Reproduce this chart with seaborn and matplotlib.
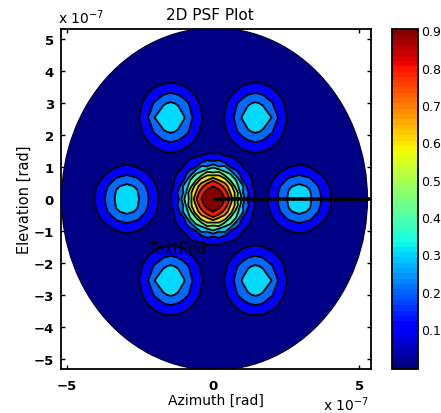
import numpy as np
import seaborn as sns
import matplotlib
matplotlib.use("Agg")
import matplotlib.pyplot as plt
from matplotlib.cm import ScalarMappable
from matplotlib.colors import Normalize
from matplotlib.patches import Ellipse

# one quadrant of the psf, in units of 1e-7 rad
x_nodes = [0, .2, .4, .6, .8, 1, 1.2, 1.45, 1.7, 2, 2.3, 2.6, 2.95, 3.3, 3.7, 4.1, 4.6, 5.4]
y_nodes = [0, .2, .4, .6, .8, 1, 1.2, 1.45, 1.75, 2.1, 2.55, 3, 3.35, 3.7, 4.2, 5.4]
psf_quadrant = [
    [.95, .93, .90, .78, .52, .39, .18, .09, .06, .13, .23, .32, .36, .32, .20, .08, .01, 0],
    [.93, .92, .88, .69, .56, .31, .21, .09, .055, .13, .22, .31, .34, .31, .19, .08, .01, 0],
    [.90, .88, .75, .65, .43, .33, .15, .07, .05, .11, .20, .29, .32, .29, .17, .07, .01, 0],
    [.78, .69, .65, .47, .39, .19, .15, .05, .035, .09, .16, .22, .26, .22, .13, .05, .01, 0],
    [.52, .56, .43, .39, .22, .18, .11, .04, .02, .06, .11, .16, .18, .16, .09, .03, 0, 0],
    [.39, .31, .33, .19, .18, .11, .05, .01, .01, .035, .07, .10, .12, .10, .06, .015, 0, 0],
    [.18, .21, .15, .15, .11, .06, .04, .04, .035, .025, .04, .06, .07, .06, .03, .01, 0, 0],
    [.09, .09, .07, .05, .055, .075, .09, .10, .09, .065, .03, .02, .025, .02, .01, 0, 0, 0],
    [.01, .02, .045, .08, .11, .145, .17, .19, .17, .13, .08, .03, .02, .005, 0, 0, 0, 0],
    [.015, .04, .085, .13, .19, .24, .29, .31, .29, .21, .13, .06, .01, 0, 0, 0, 0, 0],
    [.02, .06, .11, .165, .23, .31, .35, .36, .35, .30, .165, .08, .02, 0, 0, 0, 0, 0],
    [.015, .04, .085, .13, .19, .24, .29, .31, .29, .21, .13, .06, .01, 0, 0, 0, 0, 0],
    [.01, .02, .045, .08, .11, .145, .17, .19, .17, .13, .08, .03, .01, 0, 0, 0, 0, 0],
    [0, .01, .015, .025, .05, .065, .075, .08, .075, .055, .025, .01, 0, 0, 0, 0, 0, 0],
    [0, 0, 0, 0, 0, .005, .008, .01, .008, .005, 0, 0, 0, 0, 0, 0, 0, 0],
    [0, 0, 0, 0, 0, 0, 0, 0, 0, 0, 0, 0, 0, 0, 0, 0, 0, 0],
]
level_values = [-.01, .1, .2, .3, .4, .5, .6, .7, .8, .9, 1.0]
beam_x = [0.05, 5.4]
beam_y = [0, 0]
x_ticks = [-5, 0, 5]
y_ticks = [-5, -4, -3, -2, -1, 0, 1, 2, 3, 4, 5]
bar_ticks = [.1, .2, .3, .4, .5, .6, .7, .8, .9]

sns.set_style("ticks")
plt.rcParams["font.family"] = ["DejaVu Sans"]
plt.rcParams["axes.linewidth"] = 1.3
plt.rcParams["text.color"] = "black"
plt.rcParams["axes.labelcolor"] = "black"
plt.rcParams["xtick.color"] = "black"
plt.rcParams["ytick.color"] = "black"
plt.rcParams["axes.edgecolor"] = "black"

# mirror the quadrant into the full plane
half = np.array(psf_quadrant)
full = np.hstack([half[:, :0:-1], half])
full = np.vstack([full[:0:-1], full])
xs = np.r_[-np.array(x_nodes[:0:-1]), x_nodes]
ys = np.r_[-np.array(y_nodes[:0:-1]), y_nodes]

W, H = 441, 414
fig = plt.figure(figsize=(W / 100, H / 100), dpi=100)
ax = fig.add_axes([61 / W, 1 - 370 / H, 310 / W, 340 / H])
cax = fig.add_axes([392 / W, 1 - 370 / H, 26 / W, 340 / H])

cmap = plt.get_cmap("jet")
norm = Normalize(-.007, .904)
fills = [cmap(norm(max(v, 0))) for v in level_values[:-1]]

disc = Ellipse((0.05, 0), 10.45, 10.7, facecolor=cmap(0.0), edgecolor="black", lw=1.0, zorder=1)
ax.add_patch(disc)
filled = ax.contourf(xs, ys, full, levels=level_values, colors=fills, zorder=2)
lines = ax.contour(xs, ys, full, levels=level_values[1:-1], colors="black", linewidths=1.3, zorder=3)
filled.set_clip_path(disc)
lines.set_clip_path(disc)

sns.lineplot(x=beam_x, y=beam_y, color="black", linewidth=2.6, ax=ax, zorder=4)
ax.text(-2.2, -1.55, "TextEnd", fontsize=10.5, va="center", zorder=5)

ax.set_xlim(-5.2, 5.4)
ax.set_ylim(-5.32, 5.32)
ax.set_xticks(x_ticks)
ax.set_yticks(y_ticks)
ax.tick_params(direction="in", length=3, width=1, labelsize=9.5, top=True, right=True)
ax.tick_params(axis="x", pad=7)
ax.tick_params(axis="y", pad=5)
for label in ax.get_xticklabels() + ax.get_yticklabels():
    label.set_fontweight("bold")
ax.set_title("2D PSF Plot", fontsize=11, pad=7, x=0.48)
ax.set_xlabel("Azimuth [rad]", fontsize=10, labelpad=1)
ax.set_ylabel("Elevation [rad]", fontsize=10.5, labelpad=1)
fig.text(58 / W, 1 - 18 / H, r"x 10$^{-7}$", fontsize=10, va="center")
fig.text(323 / W, 1 - 405 / H, r"x 10$^{-7}$", fontsize=10, va="center")

bar = fig.colorbar(ScalarMappable(norm=norm, cmap=cmap.resampled(64)), cax=cax)
bar.set_ticks(bar_ticks)
bar.set_ticklabels([f"{t:.1f}" for t in bar_ticks])
cax.tick_params(direction="in", length=3, width=1, left=True, right=True, labelsize=9, pad=2)
cax.set_ylim(-.007, .904)

fig.savefig("out.png", dpi=100)
